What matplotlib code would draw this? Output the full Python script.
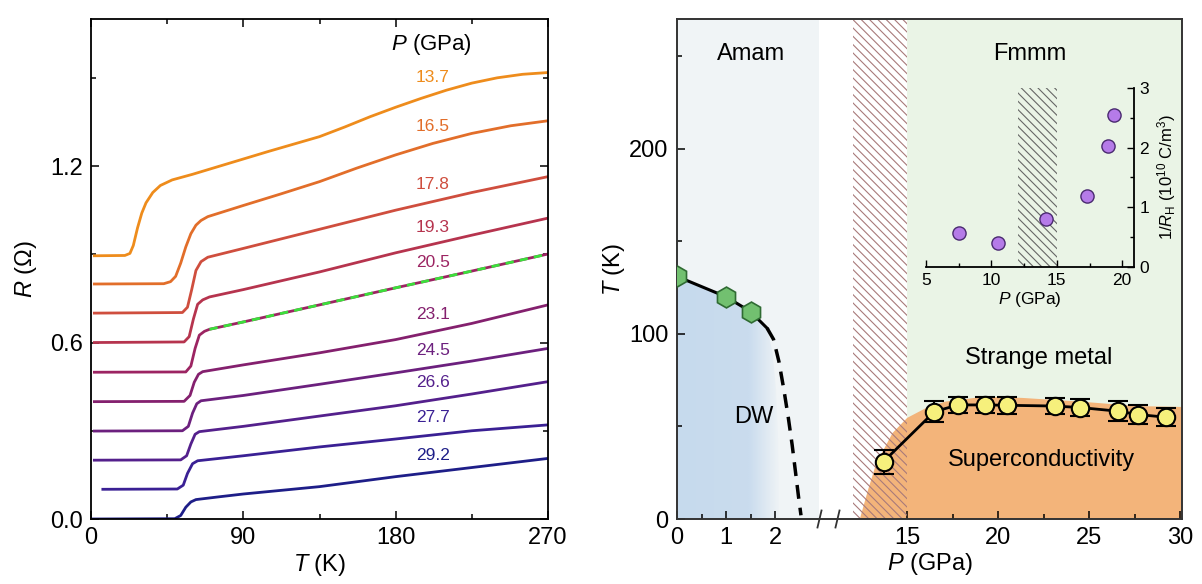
import numpy as np
import matplotlib
matplotlib.use("Agg")
import matplotlib.pyplot as plt
from matplotlib.patches import Polygon
from matplotlib.colors import LinearSegmentedColormap

plt.rcParams['font.family'] = ['Liberation Sans', 'DejaVu Sans']
plt.rcParams['mathtext.fontset'] = 'custom'
plt.rcParams['mathtext.rm'] = 'Liberation Sans'
plt.rcParams['mathtext.it'] = 'Liberation Sans:italic'
plt.rcParams['hatch.linewidth'] = 0.8

# ---------------- left panel: R(T), curves offset by 0.1 Ohm ----------------
pressures = [13.7, 16.5, 17.8, 19.3, 20.5, 23.1, 24.5, 26.6, 27.7, 29.2]
curve_colors = ['#ee8c1c', '#e26e2a', '#cf4e3e', '#b6344e', '#9c2462',
                '#84206e', '#6c207e', '#54208c', '#3a2094', '#1e1e88']

T_137 = [2, 20, 23, 25, 27.5, 30, 32.5, 36.5, 41, 48, 60, 75, 90, 105, 120, 135, 150, 165,
         180, 195, 210, 225, 240, 255, 270]
R_137 = [0.895, 0.896, 0.903, 0.93, 0.99, 1.04, 1.075, 1.11, 1.134, 1.153, 1.172, 1.198,
         1.224, 1.25, 1.275, 1.30, 1.333, 1.368, 1.40, 1.43, 1.458, 1.482, 1.50, 1.512, 1.518]
T_165 = [2, 43, 47, 50, 53, 56, 59, 62, 65, 69, 90, 112, 135, 157, 180, 202, 225, 248, 270]
R_165 = [0.799, 0.80, 0.807, 0.825, 0.87, 0.925, 0.97, 0.999, 1.015, 1.028, 1.066, 1.105,
         1.147, 1.193, 1.238, 1.277, 1.311, 1.337, 1.354]
T_178 = [2, 54, 57, 59.5, 62, 65, 69, 90, 135, 180, 225, 270]
R_178 = [0.70, 0.702, 0.72, 0.78, 0.845, 0.875, 0.89, 0.92, 0.985, 1.05, 1.11, 1.164]
T_193 = [2, 55, 58, 60.5, 63, 66, 70, 90, 135, 180, 225, 270]
R_193 = [0.60, 0.602, 0.62, 0.68, 0.73, 0.745, 0.755, 0.78, 0.84, 0.905, 0.965, 1.023]
T_205 = [2, 56, 59, 61.5, 64, 67, 70, 90, 135, 180, 225, 270]
R_205 = [0.499, 0.50, 0.52, 0.58, 0.625, 0.638, 0.645, 0.670, 0.728, 0.786, 0.843, 0.901]
T_231 = [2, 55, 58.5, 61, 63.5, 66, 90, 135, 180, 225, 270]
R_231 = [0.399, 0.40, 0.42, 0.465, 0.492, 0.501, 0.524, 0.565, 0.61, 0.665, 0.728]
T_245 = [2, 54, 57.5, 60, 62.5, 65, 90, 135, 180, 225, 270]
R_245 = [0.299, 0.30, 0.315, 0.36, 0.392, 0.402, 0.42, 0.458, 0.497, 0.537, 0.58]
T_266 = [2, 53, 56.5, 59, 61.5, 64, 90, 135, 180, 225, 270]
R_266 = [0.20, 0.201, 0.215, 0.255, 0.288, 0.297, 0.315, 0.35, 0.385, 0.425, 0.467]
T_277 = [7, 51, 54.5, 57, 60, 63, 90, 135, 180, 225, 270]
R_277 = [0.101, 0.102, 0.115, 0.155, 0.188, 0.198, 0.215, 0.245, 0.272, 0.30, 0.32]
T_292 = [0, 49.5, 53, 56, 59, 62, 75, 90, 135, 180, 225, 270]
R_292 = [0.0, 0.001, 0.012, 0.04, 0.058, 0.066, 0.075, 0.085, 0.11, 0.144, 0.175, 0.206]

curves_T = [T_137, T_165, T_178, T_193, T_205, T_231, T_245, T_266, T_277, T_292]
curves_R = [R_137, R_165, R_178, R_193, R_205, R_231, R_245, R_266, R_277, R_292]

# ---------------- right panel: phase diagram ----------------
Tc = [31, 58, 61.6, 61.6, 61.4, 61, 60.2, 58.2, 56.4, 55]
Tc_err = [6.5, 5.5, 4.5, 4.5, 4.5, 4.5, 4.5, 5.5, 5, 5]

P_dw = [0, 1, 1.5]
T_dw = [131, 120, 112]
P_dw_solid = [0, 1, 1.5, 1.84]
T_dw_solid = [131, 120, 112, 103]
P_dw_dash = [1.84, 1.97, 2.08, 2.18, 2.27, 2.35, 2.42, 2.48, 2.53]
T_dw_dash = [103, 97, 85, 70, 55, 40, 25, 12, 2]
P_dw_region = [0, 0, 1, 1.5, 1.84, 1.95, 2.02, 2.06, 2.08, 2.08]
T_dw_region = [0, 131, 120, 112, 103, 90, 70, 45, 20, 0]

P_dome = [12.4, 12.85, 13.3, 14.2, 15, 16.05, 17.1, 19.2, 21.3, 24.5, 27.6, 30.1, 30.1]
T_dome = [0, 15.7, 30, 46.5, 54.6, 60, 63.4, 66, 65.4, 63.4, 61, 60.5, 0]

# inset: Hall data
P_hall = [7.5, 10.5, 14.2, 17.3, 18.9, 19.4]
inv_RH = [0.57, 0.40, 0.80, 1.19, 2.03, 2.55]

fig = plt.figure(figsize=(12.02, 5.84), dpi=100)

ax1 = fig.add_axes([91 / 1202, 65 / 584, 457 / 1202, 500 / 584])
for T, R, c in zip(curves_T, curves_R, curve_colors):
    ax1.plot(T, R, color=c, lw=2, solid_joinstyle='round')
# linear fit overlay on 20.5 GPa curve
fit_T = [t for t in T_205 if t >= 70]
fit_R = [r for t, r in zip(T_205, R_205) if t >= 70]
ax1.plot(fit_T, fit_R, color='#3be03b', lw=2, ls=(0, (3, 2.2)))
for p, T, R, c in zip(pressures, curves_T, curves_R, curve_colors):
    ax1.text(202, np.interp(202, T, R) + 0.058, f'{p}', color=c, fontsize=12.5,
             ha='center', va='center')
ax1.text(201, 1.612, '$P$ (GPa)', fontsize=16, ha='center', va='center')

ax1.set_xlim(0, 270)
ax1.set_ylim(0, 1.7)
ax1.set_xticks([0, 90, 180, 270])
ax1.set_xticks([45, 135, 225], minor=True)
ax1.set_yticks([0, 0.6, 1.2])
ax1.set_yticks([0.3, 0.9, 1.5], minor=True)
ax1.set_yticklabels(['0.0', '0.6', '1.2'])
ax1.tick_params(which='both', direction='in', top=True, right=True, labelsize=17, pad=6, width=1.1)
ax1.tick_params(which='major', length=6)
ax1.tick_params(which='minor', length=3.5)
for s in ax1.spines.values():
    s.set_linewidth(1.3)
ax1.set_xlabel('$T$ (K)', fontsize=17, labelpad=2)
ax1.set_ylabel('$R$ ($\\Omega$)', fontsize=17, labelpad=8)


# broken pressure axis: 0-2.9 GPa stretched, 11.2-30.1 GPa compressed
def p_fwd(p):
    p = np.asarray(p, dtype=float)
    return np.where(p <= 2.9, p * 49.0,
                    np.where(p >= 11.2, 161.0 + (p - 11.2) * 18.2,
                             142.1 + (p - 2.9) * (18.9 / 8.3)))


def p_inv(u):
    u = np.asarray(u, dtype=float)
    return np.where(u <= 142.1, u / 49.0,
                    np.where(u >= 161.0, 11.2 + (u - 161.0) / 18.2,
                             2.9 + (u - 142.1) * (8.3 / 18.9)))


ax2 = fig.add_axes([677 / 1202, 65 / 584, 505 / 1202, 500 / 584])
ax2.set_xscale('function', functions=(p_fwd, p_inv))

ax2.axvspan(0, 2.9, color='#f0f4f6', lw=0, zorder=0)
ax2.axvspan(15, 30.1, color='#eaf4e6', lw=0, zorder=0)
ax2.fill(P_dome, T_dome, color='#f3b47a', lw=0, zorder=1)
ax2.axvspan(12, 15, facecolor='none', edgecolor='#a87a7a', hatch=r'\\\\', lw=0, zorder=2)

dw_poly = Polygon(np.column_stack([P_dw_region, T_dw_region]), closed=True,
                  facecolor='none', edgecolor='none', transform=ax2.transData)
ax2.add_patch(dw_poly)
dw_cmap = LinearSegmentedColormap.from_list(
    'dw', [(0, '#c6daed'), (0.7, '#cadcee'), (1, '#f0f4f6')])
im = ax2.imshow(np.linspace(0, 1, 256)[None, :], extent=[0, 2.1, 0, 140], cmap=dw_cmap,
                aspect='auto', origin='lower', interpolation='bilinear', zorder=1)
im.set_clip_path(dw_poly)

ax2.plot(P_dw_solid, T_dw_solid, color='k', lw=2.2, zorder=4)
ax2.plot(P_dw_dash, T_dw_dash, color='k', lw=2.5, ls=(0, (4, 2.6)), zorder=4)
ax2.plot(P_dw, T_dw, 'h', ms=15, mfc='#72c070', mec='#2f6b33', mew=1.2, zorder=5)

ax2.errorbar(pressures, Tc, yerr=Tc_err, fmt='o-', color='k', lw=2, ms=12.5,
             mfc='#f6f07c', mec='k', mew=1.5, capsize=7, capthick=1.5,
             elinewidth=1.5, zorder=6)

ax2.set_xlim(0, 30.1)
ax2.set_ylim(0, 270)
ax2.set_xticks([0, 1, 2, 15, 20, 25, 30])
ax2.set_xticklabels(['0', '1', '2', '15', '20', '25', '30'])
ax2.set_xticks([0.5, 1.5, 17.5, 22.5, 27.5], minor=True)
ax2.set_yticks([0, 100, 200])
ax2.set_yticks([50, 150, 250], minor=True)
ax2.tick_params(which='both', direction='in', labelsize=17, pad=6, width=1.1)
ax2.tick_params(which='major', length=6)
ax2.tick_params(which='minor', length=3.5)
for s in ax2.spines.values():
    s.set_linewidth(1.4)
    s.set_color('#333333')
ax2.set_xlabel('$P$ (GPa)', fontsize=17, labelpad=1)
ax2.set_ylabel('$T$ (K)', fontsize=17, labelpad=2)

# axis break marks
for xa in [(819.5 - 677) / 505, (837.5 - 677) / 505]:
    ax2.plot([xa - 0.004, xa + 0.004], [-0.017, 0.017], color='#333333', lw=1.3,
             transform=ax2.transAxes, clip_on=False, zorder=7)

ax2.text(1.52, 251, 'Amam', fontsize=17, ha='center', va='center', zorder=8)
ax2.text(21.75, 251, 'Fmmm', fontsize=17, ha='center', va='center', zorder=8)
ax2.text(22.2, 87, 'Strange metal', fontsize=17, ha='center', va='center', zorder=8)
ax2.text(1.56, 55, 'DW', fontsize=17, ha='center', va='center', zorder=8)
ax2.text(22.4, 32, 'Superconductivity', fontsize=17, ha='center', va='center', zorder=8)

# inset
axi = fig.add_axes([926 / 1202, 1 - 267 / 584, 208 / 1202, 179 / 584])
axi.set_facecolor('none')
axi.axvspan(12, 15, facecolor='none', edgecolor='#666666', hatch=r'\\\\', lw=0, zorder=1)
axi.scatter(P_hall, inv_RH, s=90, c='#b57be8', edgecolors='#4a2a70', linewidths=1, zorder=3)
axi.set_xlim(5, 20.9)
axi.set_ylim(0, 3)
axi.spines['left'].set_visible(False)
axi.spines['top'].set_visible(False)
axi.spines['bottom'].set_linewidth(1.3)
axi.spines['right'].set_linewidth(1.3)
axi.yaxis.tick_right()
axi.yaxis.set_label_position('right')
axi.set_xticks([5, 10, 15, 20])
axi.set_xticks([7.5, 12.5, 17.5], minor=True)
axi.set_yticks([0, 1, 2, 3])
axi.set_yticks([0.5, 1.5, 2.5], minor=True)
axi.tick_params(which='both', direction='in', labelsize=12.5, pad=4, width=1)
axi.tick_params(which='major', length=5)
axi.tick_params(which='minor', length=3)
axi.set_xlabel('$P$ (GPa)', fontsize=12.5, labelpad=2)
axi.set_ylabel('1/$R_{\\mathrm{H}}$ (10$^{10}$ C/m$^3$)', fontsize=12, labelpad=4)

fig.savefig('out.png', dpi=100)
